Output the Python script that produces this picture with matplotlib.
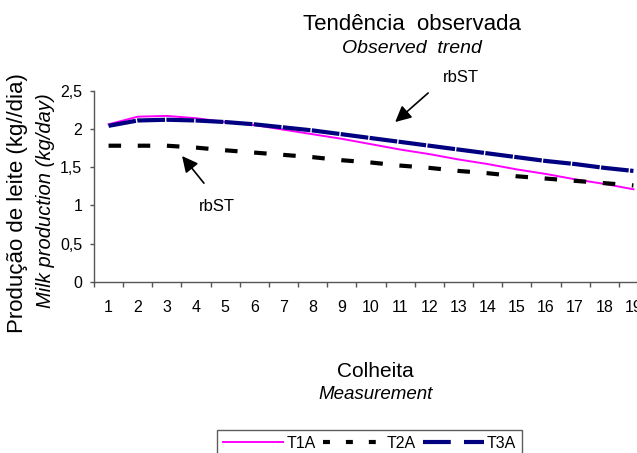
import numpy as np
import matplotlib
matplotlib.use("Agg")
import matplotlib.pyplot as plt
from matplotlib.lines import Line2D

plt.rcParams['font.family'] = ['Liberation Sans', 'DejaVu Sans']
plt.rcParams['lines.scale_dashes'] = False

# data
colheita = list(range(1, 20))
t1a = [2.06, 2.16, 2.17, 2.14, 2.09, 2.05, 1.99, 1.93, 1.87, 1.80, 1.73,
       1.67, 1.60, 1.54, 1.47, 1.41, 1.34, 1.28, 1.21]
t2a = [1.78, 1.78, 1.78, 1.755, 1.72, 1.69, 1.66, 1.63, 1.59, 1.56, 1.52,
       1.49, 1.45, 1.42, 1.38, 1.35, 1.32, 1.29, 1.26]
t3a = [2.04, 2.11, 2.12, 2.11, 2.09, 2.06, 2.02, 1.98, 1.93, 1.88, 1.83,
       1.78, 1.73, 1.68, 1.63, 1.58, 1.54, 1.49, 1.45]
series_names = ['T1A', 'T2A', 'T3A']
y_ticks = [0, 0.5, 1, 1.5, 2, 2.5]
y_ticklabels = ['0', '0,5', '1', '1,5', '2', '2,5']

W, H = 637, 453
fig = plt.figure(figsize=(W / 100, H / 100), dpi=100)
# axes runs past the right edge of the figure, as in the reference
ax = fig.add_axes([94 / W, (H - 281.7) / H, 554 / W, 191 / H])

MAG, NAVY = '#FF00FF', '#000080'
ax.plot(colheita, t1a, color=MAG, lw=1.4)
ax.plot(colheita, t2a, color='black', lw=3, dashes=(9.0, 12.0), dash_capstyle='butt')
ax.plot(colheita, t3a, color=NAVY, lw=3, dashes=(20.0, 1.0), dash_capstyle='butt')

ax.set_xlim(0.5, 19.5)
ax.set_ylim(0, 2.5)
ax.set_xticks(np.arange(0.5, 20, 1))
ax.set_xticklabels([])
ax.set_xticks(colheita, minor=True)
ax.set_xticklabels([str(c) for c in colheita], minor=True)
ax.tick_params(axis='x', which='minor', length=0, pad=13, labelsize=11.5)
ax.tick_params(axis='x', which='major', length=3.6, direction='out', width=1, color='#555555')
ax.set_yticks(y_ticks)
ax.set_yticklabels(y_ticklabels)
ax.tick_params(axis='y', length=3, direction='out', width=1, labelsize=11.5, pad=5.5, color='#555555')
for s in ['top', 'right']:
    ax.spines[s].set_visible(False)
for s in ['left', 'bottom']:
    ax.spines[s].set_color('#555555')
    ax.spines[s].set_linewidth(1)

# titles
fig.text(412 / W, 1 - 30 / H, 'Tendência  observada', ha='center', va='baseline', fontsize=16)
fig.text(412 / W, 1 - 53 / H, 'Observed  trend', ha='center', va='baseline',
         fontsize=14, style='italic')
fig.text(18 / W, 1 - 203 / H, 'Produção de leite (kg//dia)', rotation=90,
         ha='center', va='center', fontsize=16)
fig.text(46 / W, 1 - 201 / H, 'Milk production (kg/day)', rotation=90,
         ha='center', va='center', fontsize=14.5, style='italic')
fig.text(375 / W, 1 - 377 / H, 'Colheita', ha='center', va='baseline', fontsize=15)
fig.text(376 / W, 1 - 399 / H, 'Measurement', ha='center', va='baseline',
         fontsize=13.5, style='italic')

# rbST arrows
arrow = dict(arrowstyle='-|>', color='black', lw=1.2, mutation_scale=24,
             shrinkA=0, shrinkB=0)
ax.annotate('', xy=(10.83, 2.09), xytext=(11.96, 2.47), arrowprops=arrow,
            annotation_clip=False)
ax.text(13.07, 2.67, 'rbST', ha='center', va='center', fontsize=12, clip_on=False)
ax.annotate('', xy=(3.52, 1.645), xytext=(4.27, 1.29), arrowprops=arrow)
ax.text(4.70, 0.99, 'rbST', ha='center', va='center', fontsize=12)

# legend handles drawn like the Excel legend
h1 = Line2D([], [], color=MAG, lw=1.4)
h2 = Line2D([], [], color='black', lw=3, dashes=(5.0, 11.5), dash_capstyle='butt')
h3 = Line2D([], [], color=NAVY, lw=3, dashes=(20.0, 9.5), dash_capstyle='butt')
leg = fig.legend([h1, h2, h3], series_names, ncol=3,
                 loc='upper left', bbox_to_anchor=(217 / W, 1 - 430 / H),
                 fontsize=11.5, frameon=True, fancybox=False, handlelength=3.8,
                 handletextpad=0.2, columnspacing=0.45, borderpad=0.35,
                 borderaxespad=0)
leg.get_frame().set_edgecolor('#333333')
leg.get_frame().set_linewidth(1.0)

fig.savefig('out.png', dpi=100)
